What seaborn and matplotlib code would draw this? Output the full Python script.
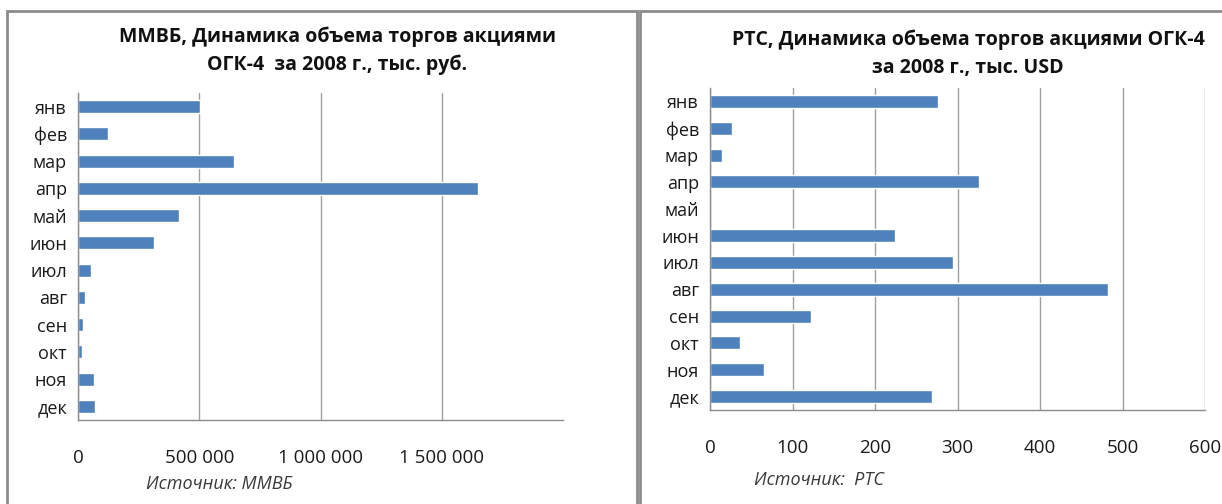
import matplotlib
matplotlib.use('Agg')
import matplotlib.pyplot as plt
import matplotlib.ticker as mticker
import numpy as np
import pandas as pd
import seaborn as sns
from matplotlib.patches import Rectangle

# Données
mois = ['янв', 'фев', 'мар', 'апр', 'май', 'июн', 'июл', 'авг', 'сен', 'окт', 'ноя', 'дек']
mmvb_volume = [505000, 125000, 642000, 1648000, 418000, 312000, 53000, 27000, 19000, 15000, 66000, 70000]
rts_volume = [276, 27, 14, 326, 0, 224, 294, 483, 122, 36, 65, 269]

mmvb_ticks = [0, 500000, 1000000, 1500000]
rts_ticks = [0, 100, 200, 300, 400, 500, 600]

sns.set_style('white')
plt.rcParams['font.family'] = ['Open Sans', 'DejaVu Sans']

bleu = '#4F81BD'
gris = '#8C8C8C'

fig = plt.figure(figsize=(12.22, 5.04), dpi=100)

# cadres des deux graphiques
fig.patches.append(Rectangle((7 / 1222, -0.1), (637 - 7) / 1222, 1.1 - 11 / 504,
                             transform=fig.transFigure, fill=False, edgecolor=gris, lw=2))
fig.patches.append(Rectangle((640 / 1222, -0.1), 0.5, 1.1 - 11 / 504,
                             transform=fig.transFigure, fill=False, edgecolor=gris, lw=2))


def fmt_space(v, pos):
    return f'{int(v):,}'.replace(',', '\u00a0')


def draw(ax, values, ticks, xmax, title, source, title_x, title_y, src_x, src_y, fmt=None):
    df = pd.DataFrame({'mois': mois, 'valeur': values})
    sns.barplot(data=df, y='mois', x='valeur', orient='h', color=bleu, width=0.48,
                saturation=1, ax=ax)
    ax.set_xlim(0, xmax)
    ax.set_ylim(11.5, -0.5)
    ax.set_xticks(ticks)
    if fmt:
        ax.xaxis.set_major_formatter(mticker.FuncFormatter(fmt))
    ax.set_xlabel('')
    ax.set_ylabel('')
    ax.grid(axis='x', color='#a0a0a0', lw=1)
    ax.set_axisbelow(True)
    for s in ['top', 'right']:
        ax.spines[s].set_visible(False)
    for s in ['left', 'bottom']:
        ax.spines[s].set_color(gris)
        ax.spines[s].set_linewidth(1)
    ax.set_yticks(np.arange(-0.5, 12, 1), minor=True)
    ax.tick_params(axis='y', which='major', length=0, labelsize=13, pad=8, colors='#1a1a1a')
    ax.tick_params(axis='y', which='minor', length=5, color=gris, direction='out')
    ax.tick_params(axis='x', which='major', length=7, color=gris, direction='out',
                   labelsize=13.5, pad=14, labelcolor='#1a1a1a')
    fig.text(title_x, title_y, title, ha='center', va='center', fontsize=14,
             fontweight='bold', linespacing=1.5, color='#111111')
    fig.text(src_x, src_y, source, ha='left', va='center', fontsize=13,
             style='italic', color='#3a3a3a')


ax1 = fig.add_axes([78 / 1222, 1 - 420 / 504, (563 - 78) / 1222, (420 - 93) / 504])
draw(ax1, mmvb_volume, mmvb_ticks, 2000000,
     'ММВБ, Динамика объема торгов акциями\nОГК-4  за 2008 г., тыс. руб.',
     'Источник: ММВБ', 337 / 1222, 1 - 51 / 504, 146 / 1222, 1 - 484 / 504, fmt_space)

ax2 = fig.add_axes([710 / 1222, 1 - 410 / 504, (1205 - 710) / 1222, (410 - 88) / 504])
draw(ax2, rts_volume, rts_ticks, 600,
     'РТС, Динамика объема торгов акциями ОГК-4\nза 2008 г., тыс. USD',
     'Источник:  РТС', 968 / 1222, 1 - 54 / 504, 754 / 1222, 1 - 480 / 504)

plt.savefig('out.png', dpi=100)
